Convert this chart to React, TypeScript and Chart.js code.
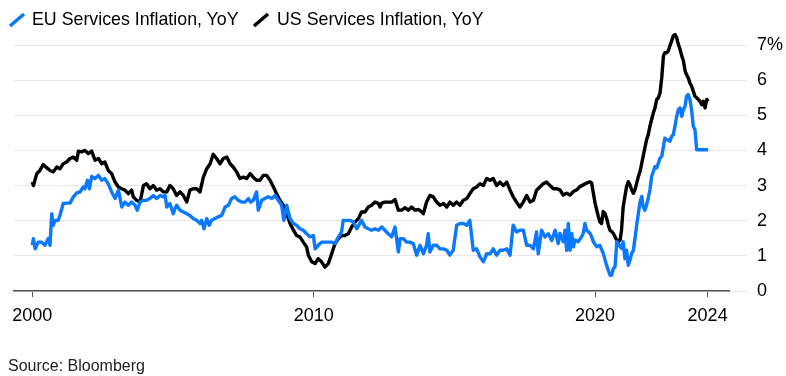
import React, { useEffect, useRef } from "react";
import { Chart, registerables } from "chart.js";

Chart.register(...registerables);

const seriesNames = ["EU Services Inflation, YoY", "US Services Inflation, YoY"];
const sourceText = "Source: Bloomberg";

const euDates = [
  2000.0, 2000.04, 2000.1, 2000.21, 2000.33, 2000.45, 2000.57, 2000.63, 2000.69, 2000.75, 2000.81, 2000.92, 2000.98,
  2001.1, 2001.22, 2001.34, 2001.46, 2001.58, 2001.7, 2001.81, 2001.87, 2001.96,
  2002.03, 2002.11, 2002.23, 2002.35, 2002.47, 2002.58, 2002.7, 2002.82, 2002.94,
  2003.06, 2003.18, 2003.29, 2003.41, 2003.53, 2003.65, 2003.73, 2003.83, 2003.95,
  2004.06, 2004.18, 2004.3, 2004.42, 2004.54, 2004.66, 2004.72, 2004.78, 2004.89,
  2005.01, 2005.07, 2005.13, 2005.25, 2005.37, 2005.49, 2005.6, 2005.72, 2005.84, 2005.96,
  2006.02, 2006.1, 2006.2, 2006.29, 2006.37, 2006.49, 2006.61, 2006.73, 2006.85, 2006.97,
  2007.08, 2007.2, 2007.32, 2007.44, 2007.56, 2007.68, 2007.76, 2007.85, 2007.97,
  2008.03, 2008.15, 2008.27, 2008.39, 2008.51, 2008.63, 2008.74, 2008.86, 2008.94,
  2009.04, 2009.16, 2009.28, 2009.39, 2009.51, 2009.63, 2009.75, 2009.87, 2009.99,
  2010.05, 2010.16, 2010.28, 2010.4, 2010.52, 2010.64, 2010.76, 2010.88, 2010.99,
  2011.05, 2011.17, 2011.29, 2011.41, 2011.53, 2011.7, 2011.82, 2011.94,
  2012.06, 2012.18, 2012.3, 2012.42, 2012.53, 2012.65, 2012.77, 2012.89,
  2013.01, 2013.07, 2013.19, 2013.3, 2013.42, 2013.54, 2013.66, 2013.78, 2013.9,
  2014.01, 2014.07, 2014.13, 2014.25, 2014.37, 2014.49, 2014.61, 2014.73, 2014.84, 2014.96,
  2015.08, 2015.2, 2015.32, 2015.44, 2015.55, 2015.67, 2015.79, 2015.91,
  2016.03, 2016.15, 2016.27, 2016.38, 2016.5, 2016.62, 2016.74, 2016.86, 2016.98,
  2017.09, 2017.21, 2017.33, 2017.45, 2017.57, 2017.69, 2017.81, 2017.92, 2017.98,
  2018.1, 2018.22, 2018.34, 2018.46, 2018.58, 2018.69, 2018.75, 2018.87, 2018.93, 2018.99,
  2019.05, 2019.11, 2019.17, 2019.23, 2019.29, 2019.4, 2019.52, 2019.58, 2019.64, 2019.7, 2019.82, 2019.88, 2019.94,
  2020.06, 2020.17, 2020.29, 2020.41, 2020.53, 2020.59, 2020.65, 2020.71, 2020.77, 2020.83, 2020.89, 2020.94,
  2021.0, 2021.06, 2021.12, 2021.18, 2021.24, 2021.3, 2021.36, 2021.42, 2021.48, 2021.54, 2021.6, 2021.66, 2021.71, 2021.77, 2021.83, 2021.89, 2021.95,
  2022.01, 2022.07, 2022.13, 2022.19, 2022.25, 2022.31, 2022.37, 2022.43, 2022.48, 2022.54, 2022.6, 2022.66, 2022.72, 2022.78, 2022.84, 2022.9, 2022.96,
  2023.02, 2023.08, 2023.14, 2023.2, 2023.25, 2023.31, 2023.37, 2023.43, 2023.49, 2023.55, 2023.61, 2023.73, 2023.85,
  2024.02,
];

const euValues = [
  1.3, 1.49, 1.2, 1.39, 1.39, 1.3, 1.49, 1.3, 2.2, 1.87, 2.01, 2.01, 2.15,
  2.49, 2.5, 2.5, 2.68, 2.79, 2.82, 2.96, 2.91, 3.15,
  2.91, 3.26, 3.2, 3.29, 3.15, 3.2, 3.05, 2.82, 2.63,
  2.87, 2.39, 2.53, 2.44, 2.53, 2.44, 2.3, 2.53, 2.58,
  2.58, 2.63, 2.72, 2.63, 2.72, 2.68, 2.72, 2.39, 2.49,
  2.2, 2.34, 2.44, 2.3, 2.25, 2.2, 2.15, 2.06, 2.01, 1.92,
  2.01, 1.77, 2.06, 1.87, 2.01, 2.06, 2.11, 2.15, 2.39, 2.44,
  2.63, 2.68, 2.58, 2.53, 2.53, 2.63, 2.53, 2.58, 2.82,
  2.3, 2.58, 2.63, 2.68, 2.63, 2.72, 2.58, 2.44, 2.01,
  2.44, 2.06, 1.92, 1.87, 1.77, 1.73, 1.63, 1.54, 1.58,
  1.2, 1.3, 1.39, 1.39, 1.39, 1.39, 1.35, 1.54, 1.68,
  2.01, 2.01, 2.01, 1.96, 1.77, 2.01, 1.82, 1.77,
  1.73, 1.77, 1.73, 1.82, 1.73, 1.63, 1.54, 1.82,
  1.11, 1.49, 1.49, 1.39, 1.39, 1.35, 1.02, 1.3, 1.06,
  1.3, 1.63, 1.11, 1.3, 1.3, 1.2, 1.2, 1.16, 1.02, 1.16,
  1.87, 1.92, 1.92, 1.87, 2.01, 1.16, 1.2, 0.97,
  0.83, 1.06, 1.06, 1.2, 1.02, 1.16, 1.16, 1.2, 1.02,
  1.87, 1.68, 1.73, 1.73, 1.3, 1.3, 1.2, 1.68, 1.06,
  1.73, 1.54, 1.63, 1.44, 1.73, 1.35, 1.64, 1.4, 1.73, 1.16,
  1.92, 1.16, 1.64, 1.26, 1.45, 1.4, 1.54, 1.64, 1.92, 1.73, 1.64, 1.54, 1.4,
  1.26, 1.3, 1.07, 0.73, 0.45, 0.45, 0.64, 0.69, 1.4, 1.35, 1.26, 1.21,
  1.4, 0.92, 1.16, 0.73, 0.88, 1.07, 1.16, 1.5, 1.88, 2.21, 2.54, 2.69, 2.4, 2.3, 2.45, 2.64, 2.88,
  3.26, 3.4, 3.54, 3.5, 3.64, 3.78, 3.83, 4.11, 4.35, 4.3, 4.3, 4.26, 4.4, 4.45, 4.69, 4.97, 5.16,
  5.21, 4.97, 5.16, 5.26, 5.54, 5.59, 5.45, 5.16, 4.69, 4.59, 4.02, 4.02, 4.02,
  4.02,
];

const usDates = [
  2000.0, 2000.04, 2000.16, 2000.27, 2000.39, 2000.51, 2000.63, 2000.75, 2000.87, 2000.98,
  2001.1, 2001.22, 2001.34, 2001.46, 2001.58, 2001.64, 2001.75, 2001.87, 2001.99,
  2002.11, 2002.23, 2002.35, 2002.47, 2002.58, 2002.7, 2002.82, 2002.94,
  2003.06, 2003.18, 2003.29, 2003.41, 2003.53, 2003.59, 2003.71, 2003.83, 2003.95,
  2004.06, 2004.18, 2004.3, 2004.42, 2004.54, 2004.66, 2004.78, 2004.89,
  2005.01, 2005.13, 2005.25, 2005.37, 2005.49, 2005.6, 2005.72, 2005.84, 2005.96,
  2006.08, 2006.2, 2006.32, 2006.43, 2006.55, 2006.67, 2006.79, 2006.91,
  2007.03, 2007.14, 2007.26, 2007.38, 2007.5, 2007.62, 2007.74, 2007.85, 2007.97,
  2008.09, 2008.21, 2008.33, 2008.45, 2008.57, 2008.68, 2008.8, 2008.92,
  2009.04, 2009.16, 2009.28, 2009.39, 2009.51, 2009.63, 2009.75, 2009.81, 2009.93,
  2010.05, 2010.16, 2010.28, 2010.4, 2010.52, 2010.64, 2010.76, 2010.88, 2010.99,
  2011.11, 2011.23, 2011.35, 2011.47, 2011.59, 2011.7, 2011.82, 2011.94,
  2012.06, 2012.18, 2012.3, 2012.36, 2012.42, 2012.53, 2012.65, 2012.77, 2012.89,
  2013.01, 2013.13, 2013.24, 2013.36, 2013.48, 2013.6, 2013.72, 2013.84, 2013.9,
  2014.01, 2014.13, 2014.25, 2014.37, 2014.49, 2014.61, 2014.73, 2014.84, 2014.96,
  2015.08, 2015.2, 2015.32, 2015.44, 2015.55, 2015.67, 2015.79, 2015.91,
  2016.03, 2016.15, 2016.27, 2016.38, 2016.5, 2016.62, 2016.74, 2016.86, 2016.98,
  2017.09, 2017.21, 2017.33, 2017.45, 2017.57, 2017.69, 2017.81, 2017.92,
  2018.04, 2018.16, 2018.28, 2018.4, 2018.52, 2018.63, 2018.75, 2018.87, 2018.99,
  2019.11, 2019.23, 2019.35, 2019.46, 2019.58, 2019.7, 2019.82, 2019.88, 2019.94,
  2020.0, 2020.06, 2020.12, 2020.17, 2020.23, 2020.29, 2020.35, 2020.41, 2020.47, 2020.53, 2020.59, 2020.65, 2020.71, 2020.77, 2020.83, 2020.89, 2020.94,
  2021.0, 2021.06, 2021.12, 2021.18, 2021.24, 2021.3, 2021.36, 2021.42, 2021.48, 2021.54, 2021.6, 2021.66, 2021.71, 2021.77, 2021.83, 2021.89, 2021.95,
  2022.01, 2022.07, 2022.13, 2022.19, 2022.25, 2022.31, 2022.37, 2022.43, 2022.48, 2022.54, 2022.6, 2022.66, 2022.72, 2022.78, 2022.84, 2022.9, 2022.96,
  2023.02, 2023.08, 2023.14, 2023.2, 2023.25, 2023.31, 2023.37, 2023.43, 2023.49, 2023.55, 2023.61, 2023.67, 2023.73, 2023.79, 2023.85, 2023.91, 2023.97,
  2024.02,
];

const usValues = [
  3.1, 3.0, 3.34, 3.43, 3.6, 3.51, 3.43, 3.39, 3.53, 3.48,
  3.62, 3.67, 3.77, 3.81, 3.72, 3.98, 3.96, 4.0, 3.91,
  3.98, 3.72, 3.77, 3.62, 3.67, 3.43, 3.34, 3.1,
  2.96, 2.91, 2.87, 2.77, 2.87, 2.68, 2.58, 2.53, 3.0,
  3.05, 2.91, 3.0, 2.87, 2.91, 2.82, 2.82, 3.0,
  2.91, 2.72, 2.82, 2.72, 2.53, 2.87, 2.91, 2.91, 2.82,
  3.24, 3.48, 3.62, 3.89, 3.77, 3.62, 3.77, 3.81,
  3.62, 3.53, 3.39, 3.2, 3.24, 3.2, 3.34, 3.24, 3.15,
  3.15, 3.29, 3.29, 3.15, 2.96, 2.77, 2.58, 2.44,
  2.2, 1.92, 1.73, 1.58, 1.54, 1.39, 1.25, 1.02, 0.83,
  0.78, 0.92, 0.83, 0.68, 0.78, 1.06, 1.35, 1.49, 1.58,
  1.58, 1.63, 1.82, 1.96, 2.06, 2.25, 2.25, 2.39,
  2.44, 2.53, 2.49, 2.39, 2.5, 2.53, 2.53, 2.53, 2.6,
  2.3, 2.3, 2.37, 2.3, 2.39, 2.3, 2.32, 2.25, 2.2,
  2.53, 2.72, 2.68, 2.53, 2.44, 2.49, 2.39, 2.53, 2.44,
  2.53, 2.44, 2.58, 2.63, 2.77, 2.91, 2.96, 3.05,
  3.0, 3.2, 3.15, 3.2, 3.0, 3.1, 3.0, 3.1, 2.87,
  2.68, 2.53, 2.39, 2.53, 2.72, 2.53, 2.58, 2.87,
  2.96, 3.05, 3.1, 3.0, 2.91, 2.91, 2.88, 2.73, 2.78,
  2.73, 2.83, 2.88, 2.97, 3.02, 3.07, 3.11, 3.07, 2.78,
  2.5, 2.3, 2.11, 1.97, 1.92, 2.26, 2.21, 2.07, 1.88, 1.73, 1.69, 1.64, 1.54, 1.45, 1.4, 1.45, 1.73,
  2.4, 2.69, 2.97, 3.11, 3.02, 2.88, 2.78, 2.88, 3.07, 3.26, 3.4, 3.64, 3.83, 4.07, 4.3, 4.45, 4.69,
  4.88, 5.07, 5.21, 5.45, 5.5, 5.64, 6.07, 6.69, 6.78, 6.78, 6.83, 6.97, 7.11, 7.26, 7.3, 7.21, 7.02,
  6.88, 6.69, 6.55, 6.26, 6.16, 6.07, 5.92, 5.83, 5.69, 5.54, 5.5, 5.45, 5.4, 5.3, 5.4, 5.21, 5.45,
  5.4,
];

const xTickYears = [2000, 2010, 2020, 2024];
const yTickValues = [0, 1, 2, 3, 4, 5, 6, 7];

const EU_COLOR = "#0a78ff";
const US_COLOR = "#000000";
const FONT = '"Liberation Sans", Arial, Helvetica, sans-serif';

export default function App() {
  const ref = useRef<HTMLCanvasElement | null>(null);

  useEffect(() => {
    if (!ref.current) return;
    Chart.defaults.font.family = FONT;
    const chart = new Chart(ref.current, {
      type: "line",
      data: {
        datasets: [
          {
            label: seriesNames[0],
            data: euDates.map((x, i) => ({ x, y: euValues[i] })),
            borderColor: EU_COLOR,
            backgroundColor: EU_COLOR,
            borderWidth: 3.4,
            pointRadius: 0,
            tension: 0,
            clip: false,
            borderJoinStyle: "round",
          },
          {
            label: seriesNames[1],
            data: usDates.map((x, i) => ({ x, y: usValues[i] })),
            borderColor: US_COLOR,
            backgroundColor: US_COLOR,
            borderWidth: 3.4,
            pointRadius: 0,
            tension: 0,
            clip: false,
            borderJoinStyle: "round",
          },
        ],
      },
      options: {
        responsive: false,
        animation: false,
        devicePixelRatio: 1,
        events: [],
        layout: { padding: { left: 14, top: 45, right: 0, bottom: 0 } },
        plugins: { legend: { display: false }, tooltip: { enabled: false } },
        scales: {
          x: {
            type: "linear",
            position: "bottom",
            min: 1999.35,
            max: 2024.76,
            z: 1,
            afterBuildTicks: (s: any) => {
              s.ticks = xTickYears.map((v) => ({ value: v }));
            },
            afterFit: (s: any) => {
              s.height = 85;
            },
            grid: { drawOnChartArea: false, drawTicks: true, tickLength: 6, color: "#555", lineWidth: 1 },
            border: { display: true, color: "#555", width: 1.5 },
            ticks: {
              color: "#000",
              font: { family: FONT, size: 18 },
              padding: 8,
              maxRotation: 0,
              autoSkip: false,
              callback: (v: any) => String(v),
            },
          },
          y: {
            type: "linear",
            position: "right",
            min: 0,
            max: 7,
            afterBuildTicks: (s: any) => {
              s.ticks = yTickValues.map((v) => ({ value: v }));
            },
            afterFit: (s: any) => {
              s.width = 57;
            },
            grid: { color: "#e6e6e6", lineWidth: 1, drawTicks: true, tickLength: 18 },
            border: { display: false },
            ticks: {
              color: "#000",
              font: { family: FONT, size: 18 },
              padding: 10,
              callback: (v: any) => (v === 7 ? "7%" : String(v)),
            },
          },
        },
      },
    });
    return () => chart.destroy();
  }, []);

  const textStyle: React.CSSProperties = {
    position: "absolute",
    fontFamily: FONT,
    fontSize: 17.8,
    lineHeight: "20px",
    color: "#000",
    whiteSpace: "nowrap",
    margin: 0,
  };

  return (
    <div
      style={{
        position: "fixed",
        left: 0,
        top: 0,
        width: 786,
        height: 376,
        background: "#fff",
        overflow: "hidden",
      }}
    >
      <canvas
        ref={ref}
        width={786}
        height={376}
        style={{ position: "absolute", left: 0, top: 0, width: 786, height: 376 }}
      />
      <svg
        width={786}
        height={40}
        style={{ position: "absolute", left: 0, top: 0 }}
      >
        <line x1={10} y1={26} x2={24} y2={14} stroke={EU_COLOR} strokeWidth={3.5} />
        <line x1={254} y1={26} x2={268} y2={14} stroke={US_COLOR} strokeWidth={3.5} />
      </svg>
      <div style={{ ...textStyle, left: 32, top: 9.4 }}>{seriesNames[0]}</div>
      <div style={{ ...textStyle, left: 277, top: 9.4 }}>{seriesNames[1]}</div>
      <div
        style={{
          ...textStyle,
          fontSize: 16,
          lineHeight: "18px",
          color: "#222",
          left: 8,
          top: 356.5,
        }}
      >
        {sourceText}
      </div>
    </div>
  );
}
